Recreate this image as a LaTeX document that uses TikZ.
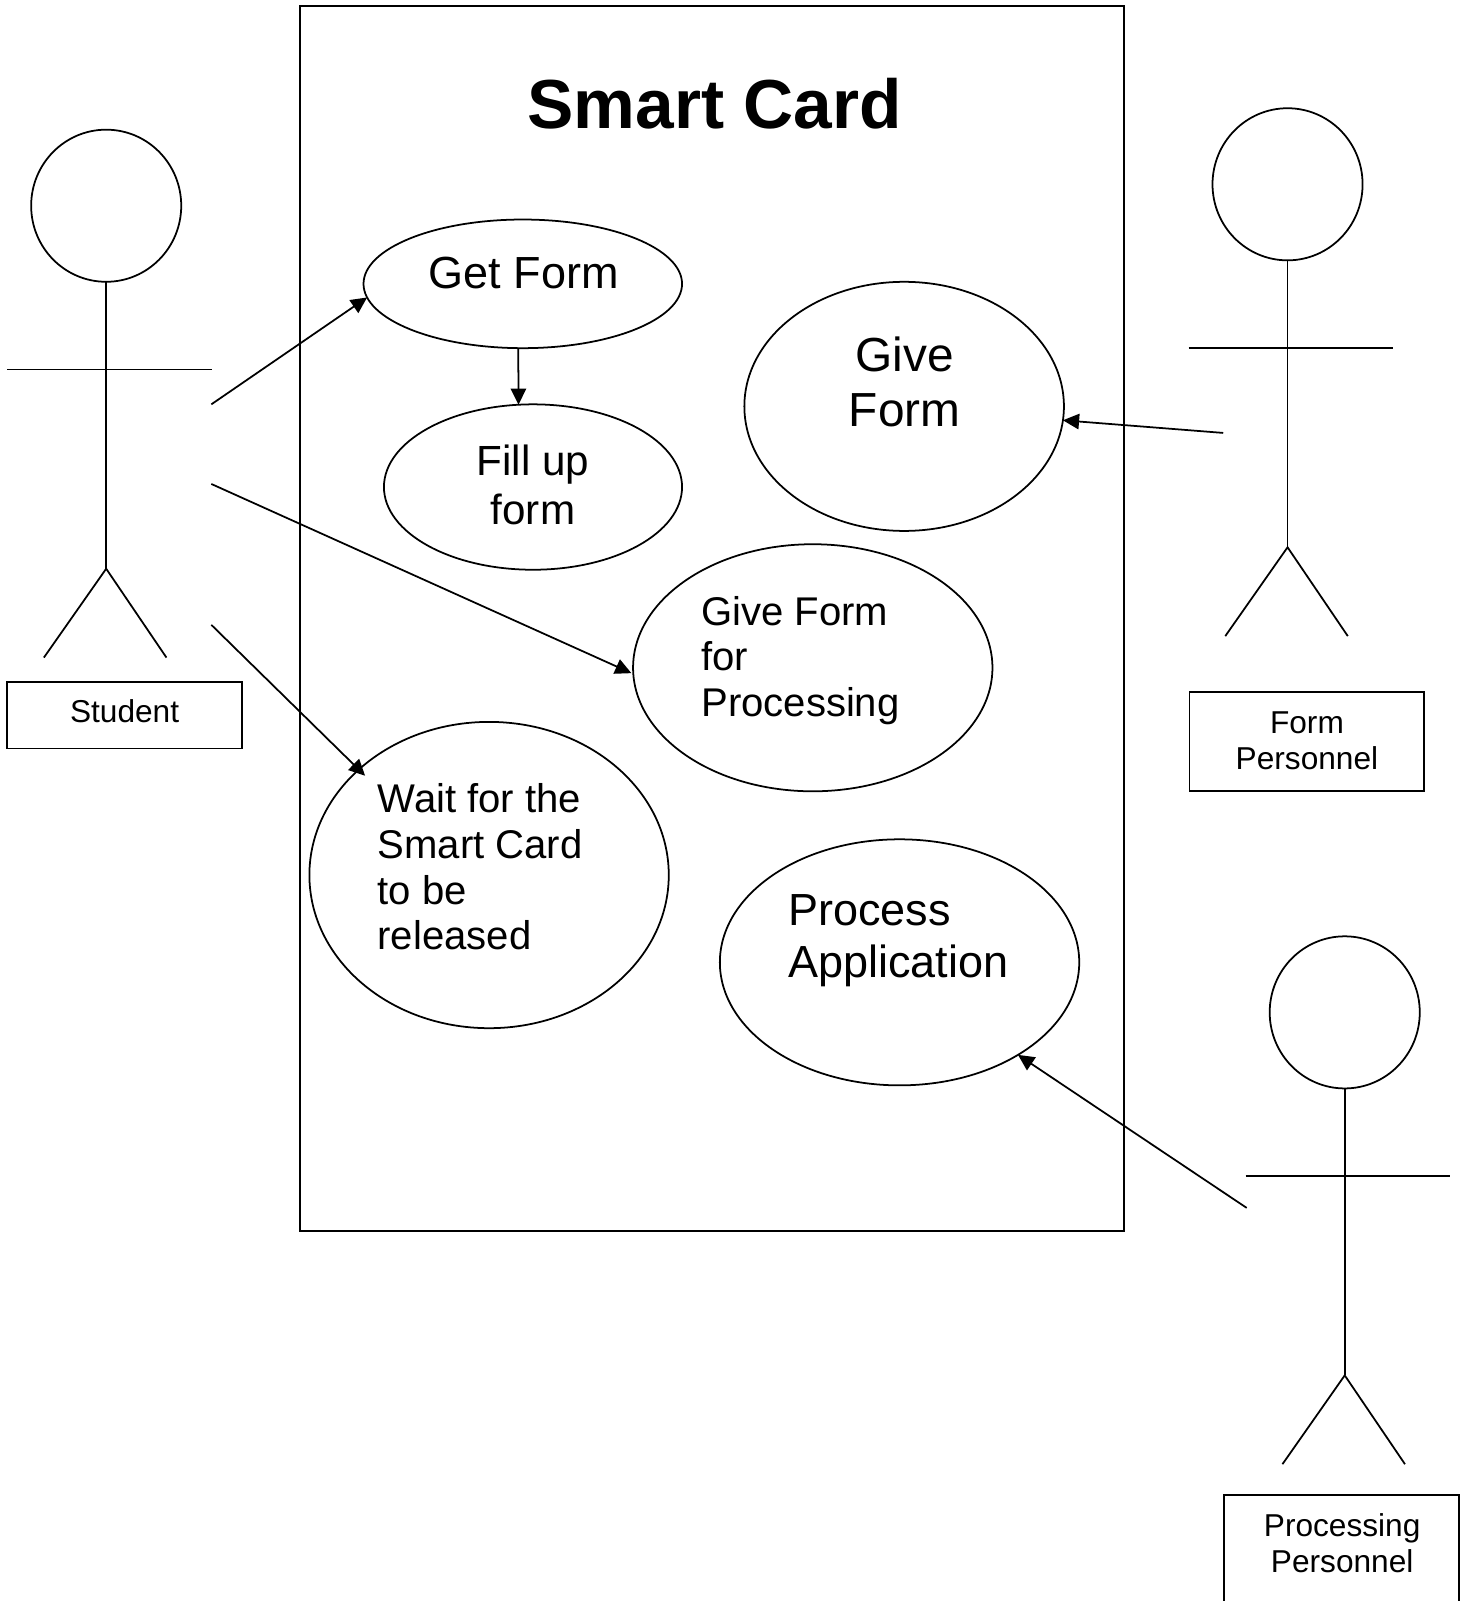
\documentclass[tikz,border=0pt]{standalone}
\usepackage{fontspec}
\setmainfont{Liberation Sans}
\usetikzlibrary{arrows.meta, shapes.geometric}
\newcommand{\fsize}[2]{\fontsize{#1}{#2}\selectfont}
\tikzset{
    bubble/.style={draw, ellipse, inner sep=0pt, outer sep=0pt},
    namebox/.style={draw, inner sep=0pt, outer sep=0pt, minimum width=230*0.2904pt},
    nametext/.style={align=center, font=\fsize{9}{10.2}},
    stickman/.pic={
        \node[bubble, minimum width=147*0.2904pt, minimum height=149*0.2904pt] (-head) at (0,0.5) {};
        \draw (-head.south) -- (0,356);
        \draw (-97,161) -- (103.5,161);
        \draw (-61,443) -- (0,356) -- (59,443);
    }
}

\begin{document}
\begin{tikzpicture}[x=0.010208cm, y=-0.010208cm, >={Triangle[length=4.6pt, width=4.4pt]}, line width=0.5pt]
    \useasboundingbox (0,0) rectangle (1441,1568);
    % System
    \node[draw, inner sep=0pt, outer sep=0pt, minimum width=807*0.2904pt, minimum height=1200*0.2904pt] (system) at (697.5,606) {};
    \node[font=\fsize{19.75}{24}\bfseries] (title) at (700,102) {Smart Card};

    % Use cases
    \node[bubble, minimum width=312*0.2904pt, minimum height=126*0.2904pt] (getForm) at (512,278) {};
    \node[bubble, minimum width=292*0.2904pt, minimum height=162*0.2904pt] (fillForm) at (522,477) {};
    \node[bubble, minimum width=313*0.2904pt, minimum height=244*0.2904pt] (giveForm) at (885.5,398) {};
    \node[bubble, minimum width=352*0.2904pt, minimum height=242*0.2904pt] (submitForm) at (796,654) {};
    \node[bubble, minimum width=352*0.2904pt, minimum height=300*0.2904pt] (waitCard) at (479,857) {};
    \node[bubble, minimum width=352*0.2904pt, minimum height=241*0.2904pt] (processApp) at (881,942.5) {};

    \node[font=\fsize{12.8}{14.8}] (getText) at (513,267) {Get Form};
    \node[align=center, font=\fsize{12}{13.9}] (fillText) at (522,475) {Fill up\\form};
    \node[align=center, font=\fsize{13.6}{15.4}] (giveText) at (886,374) {Give\\Form};
    \node[align=left, font=\fsize{11.4}{13}, anchor=west, inner sep=0pt] (submitText) at (686,647) {Give Form\\for\\Processing};
    \node[align=left, font=\fsize{11.4}{13}, anchor=west, inner sep=0pt] (waitText) at (369,849) {Wait for the\\Smart Card\\to be\\released};
    \node[align=left, font=\fsize{12.8}{14.8}, anchor=west, inner sep=0pt] (processText) at (771,921) {Process\\Application};

    % Actors
    \pic (student) at (104,201) {stickman};
    \pic (former) at (1261,180) {stickman};
    \pic (processor) at (1317,991) {stickman};

    \node[namebox, minimum height=65*0.2904pt] (studentBox) at (122,700.5) {};
    \node[namebox, minimum height=97*0.2904pt] (formerBox) at (1280,726.5) {};
    \node[namebox, minimum height=110*0.2904pt] (processorBox) at (1314,1519) {};
    \node[nametext] (studentText) at (122,697) {Student};
    \node[nametext] (formerText) at (1280,725.5) {Form\\Personnel};
    \node[nametext] (processorText) at (1314.5,1511) {Processing\\Personnel};

    % Arrows
    \coordinate (studentA) at (207,396);
    \coordinate (studentB) at (207,474);
    \coordinate (studentC) at (207,612);
    \coordinate (formerA) at (1198,424);
    \coordinate (processorA) at (1221,1183);
    \draw[->] (studentA) -- (getForm.185);
    \draw[->] (getForm.266) -- (fillForm.100.5);
    \draw[->] (formerA) -- (giveForm.355);
    \draw[->, shorten >=0.6pt] (studentB) -- (submitForm.182.6);
    \draw[->, shorten >=-2.5pt] (studentC) -- (waitCard.141);
    \draw[->] (processorA) -- (processApp.322.6);
\end{tikzpicture}
\end{document}
